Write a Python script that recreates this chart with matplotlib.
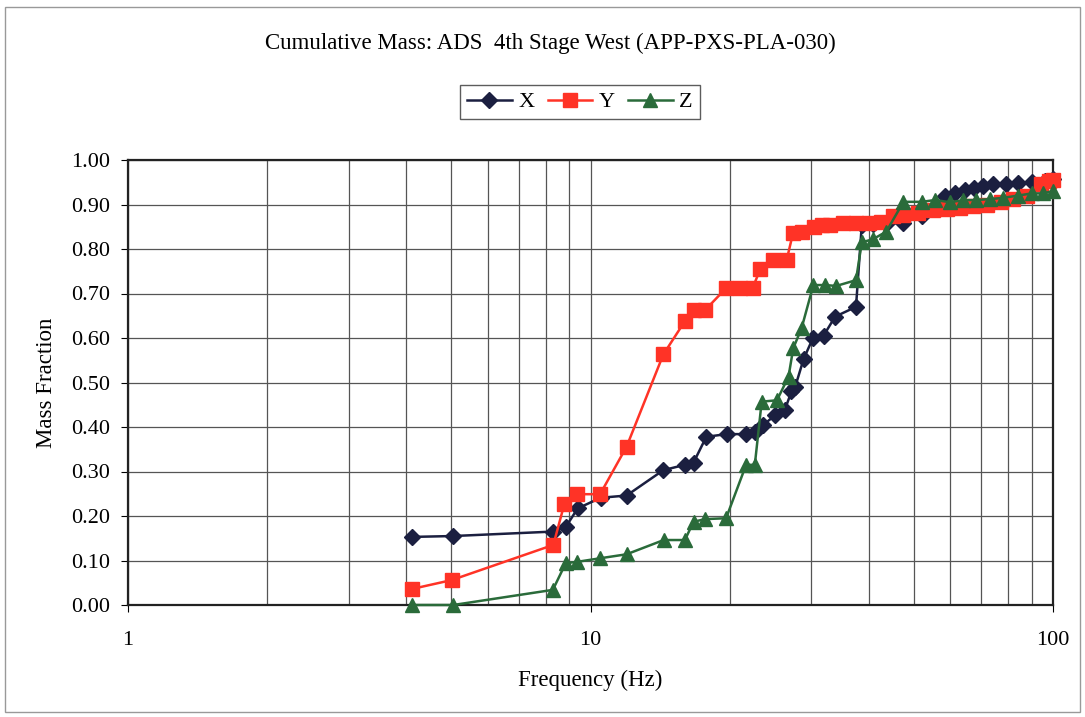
import matplotlib
matplotlib.use("Agg")
import matplotlib.pyplot as plt
from matplotlib.patches import Rectangle
from matplotlib.ticker import FixedLocator, NullFormatter, FixedFormatter

plt.rcParams['font.family'] = ['Liberation Serif', 'DejaVu Serif']

title = "Cumulative Mass: ADS  4th Stage West (APP-PXS-PLA-030)"
x_label = "Frequency (Hz)"
y_label = "Mass Fraction"

x_freq = [4.11, 5.05, 8.31, 8.85, 9.38, 10.52, 11.97, 14.37, 16.0, 16.7, 17.8,
          19.7, 21.7, 22.66, 23.6, 25.1, 26.3, 27.2, 27.7, 28.9, 30.3, 31.9,
          33.8, 37.5, 38.6, 40.8, 43.6, 47.5, 52.0, 55.6, 58.4, 61.4, 64.5,
          67.5, 70.5, 74.0, 79.0, 84.0, 90.0, 96.0, 100.0]
x_vals = [0.153, 0.155, 0.165, 0.176, 0.217, 0.241, 0.246, 0.303, 0.315, 0.320,
          0.378, 0.384, 0.384, 0.388, 0.404, 0.427, 0.438, 0.480, 0.490, 0.553,
          0.601, 0.605, 0.648, 0.670, 0.855, 0.856, 0.857, 0.858, 0.875, 0.895,
          0.918, 0.925, 0.932, 0.938, 0.942, 0.945, 0.946, 0.948, 0.950, 0.953, 0.957]

y_freq = [4.11, 5.01, 8.31, 8.78, 9.33, 10.49, 11.97, 14.37, 16.0, 16.7, 17.7,
          19.64, 21.05, 22.42, 23.3, 24.85, 26.55, 27.4, 28.6, 30.5, 31.6, 33.0,
          35.2, 37.5, 40.0, 42.5, 45.0, 47.5, 51.0, 55.0, 59.0, 63.0, 67.0,
          72.0, 77.0, 82.0, 88.0, 94.0, 98.0, 100.0]
y_vals = [0.036, 0.056, 0.135, 0.227, 0.249, 0.249, 0.356, 0.563, 0.638, 0.663,
          0.663, 0.712, 0.713, 0.713, 0.755, 0.775, 0.775, 0.835, 0.838, 0.850,
          0.853, 0.855, 0.858, 0.858, 0.858, 0.860, 0.875, 0.876, 0.880, 0.888,
          0.890, 0.893, 0.896, 0.900, 0.905, 0.912, 0.920, 0.945, 0.952, 0.955]

z_freq = [4.11, 5.05, 8.29, 8.84, 9.36, 10.49, 11.97, 14.4, 16.0, 16.7, 17.69,
          19.64, 21.7, 22.66, 23.45, 25.3, 26.8, 27.44, 28.6, 30.33, 32.1, 34.0,
          37.5, 38.6, 40.8, 43.6, 47.5, 52.0, 55.6, 60.0, 64.0, 68.0, 73.0,
          78.0, 84.0, 90.0, 95.0, 100.0]
z_vals = [0.0, 0.0, 0.034, 0.094, 0.097, 0.105, 0.114, 0.146, 0.146, 0.187,
          0.193, 0.195, 0.315, 0.315, 0.457, 0.460, 0.513, 0.577, 0.622, 0.719,
          0.719, 0.717, 0.730, 0.815, 0.822, 0.839, 0.906, 0.906, 0.910, 0.905,
          0.910, 0.910, 0.912, 0.915, 0.920, 0.925, 0.925, 0.930]

y_ticks = [0.0, 0.1, 0.2, 0.3, 0.4, 0.5, 0.6, 0.7, 0.8, 0.9, 1.0]
x_ticks = [1, 10, 100]

fig = plt.figure(figsize=(10.85, 7.17), dpi=100)
ax = fig.add_axes([128/1085, 1-605/717, (1053-128)/1085, (605-160)/717])

ax.set_xscale('log')
ax.set_xlim(1, 100)
ax.set_ylim(0, 1.0)

minor = [m * d for d in (1, 10) for m in range(2, 10)]
ax.xaxis.set_major_locator(FixedLocator(x_ticks))
ax.xaxis.set_major_formatter(FixedFormatter([str(t) for t in x_ticks]))
ax.xaxis.set_minor_locator(FixedLocator(minor))
ax.xaxis.set_minor_formatter(NullFormatter())
ax.set_yticks(y_ticks)
ax.set_yticklabels([f"{t:.2f}" for t in y_ticks])

ax.grid(True, which='both', axis='x', color='#555555', linewidth=0.9)
ax.grid(True, which='major', axis='y', color='#555555', linewidth=0.9)
ax.set_axisbelow(True)
ax.tick_params(axis='y', which='major', direction='out', length=5,
               labelsize=16, colors='black', pad=8)
ax.tick_params(axis='x', which='major', direction='out', length=5,
               labelsize=16, colors='black', pad=14)
ax.tick_params(axis='x', which='minor', length=0)
for s in ax.spines.values():
    s.set_linewidth(1.6)
    s.set_color('#222222')

ax.plot(x_freq, x_vals, color='#1b1f40', marker='D', markersize=8.5, linewidth=1.8,
        label='X', clip_on=False, zorder=3)
ax.plot(y_freq, y_vals, color='#ff3326', marker='s', markersize=9.5, linewidth=1.8,
        label='Y', clip_on=False, zorder=4)
ax.plot(z_freq, z_vals, color='#2a6b3a', marker='^', markersize=10, linewidth=1.8,
        label='Z', clip_on=False, zorder=5)

ax.set_xlabel(x_label, fontsize=16.5, labelpad=14)
ax.set_ylabel(y_label, fontsize=16.5, labelpad=10)

fig.text(550/1085, 1-43/717, title, ha='center', va='center', fontsize=16.5)

leg = fig.legend(loc='center', bbox_to_anchor=(580/1085, 1-102/717), ncol=3,
                 frameon=True, fontsize=16, handlelength=2.0, handletextpad=0.3,
                 columnspacing=0.6, borderpad=0.3, fancybox=False)
leg.get_frame().set_edgecolor('#333333')
leg.get_frame().set_linewidth(1.0)

fig.patches.append(Rectangle((5/1085, 5/717), 1075/1085, 705/717,
                             transform=fig.transFigure, fill=False,
                             edgecolor='#999999', linewidth=1.0))

fig.savefig('out.png', dpi=100)
